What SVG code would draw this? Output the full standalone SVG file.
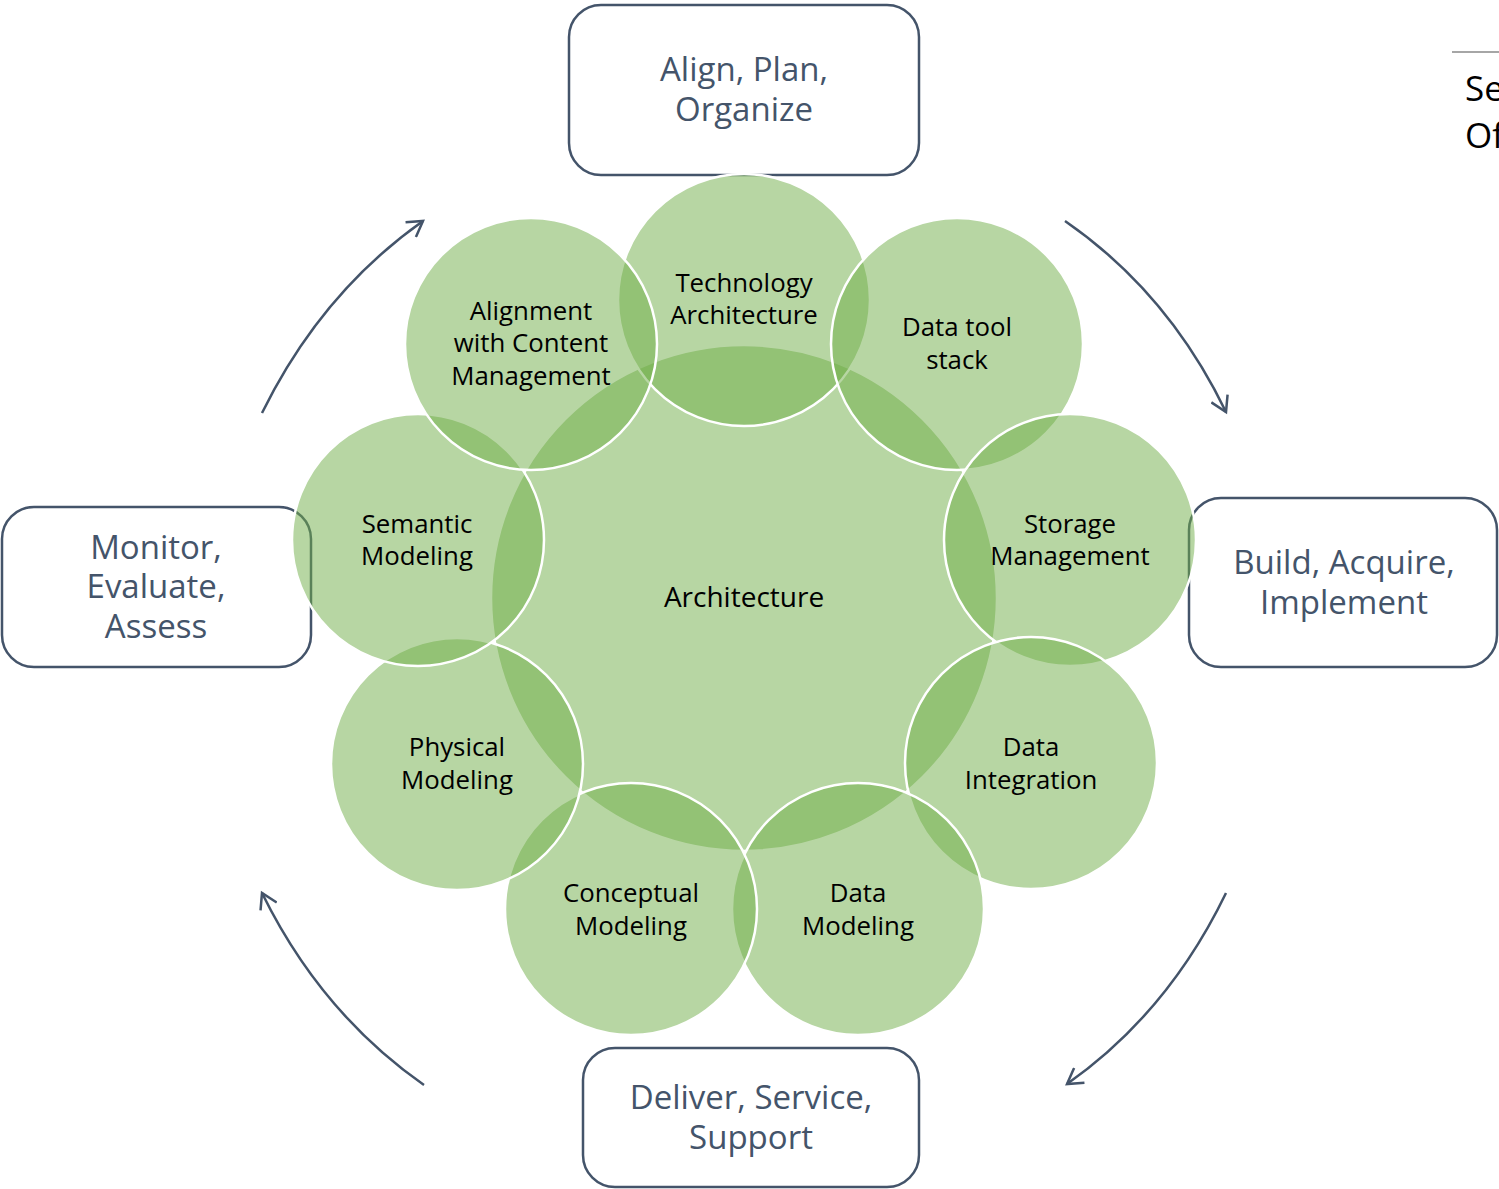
<svg xmlns="http://www.w3.org/2000/svg" width="1499" height="1189" viewBox="0 0 1499 1189">
<style>
.box{fill:#ffffff;stroke:#44546a;stroke-width:2.5}
.bt{font-family:"Open Sans","Noto Sans",sans-serif;font-size:33px;fill:#44546a;text-anchor:middle}
.c{fill:#70ad47;fill-opacity:0.5;stroke:#ffffff;stroke-width:2.5}
.ct{font-family:"Open Sans","Noto Sans",sans-serif;font-size:25.8px;fill:#000000;text-anchor:middle}
.arr{fill:none;stroke:#44546a;stroke-width:2.5;marker-end:url(#ah)}
</style>
<defs>
<marker id="ah" viewBox="0 0 20 20" refX="17" refY="10" markerWidth="20" markerHeight="20" markerUnits="userSpaceOnUse" orient="auto">
<path d="M2,1 L17,10 L2,19" fill="none" stroke="#44546a" stroke-width="2.5" stroke-linejoin="miter"/>
</marker>
</defs>
<rect width="1499" height="1189" fill="#ffffff"/>
<g id="side-text">
<line x1="1452" y1="52" x2="1499" y2="52" stroke="#a6a6a6" stroke-width="2"/>
<text font-family="'Open Sans','Noto Sans',sans-serif" font-size="35" fill="#000000"><tspan x="1465" y="101">Se</tspan><tspan x="1465" y="148">Of</tspan></text>
</g>
<g id="box-align">
<rect class="box" x="569" y="5" width="350" height="170" rx="32"/>
<text class="bt"><tspan x="744" y="81">Align, Plan,</tspan><tspan x="744" y="121">Organize</tspan></text>
</g>
<g id="box-build">
<rect class="box" x="1189" y="498" width="308" height="169" rx="32"/>
<text class="bt"><tspan x="1344" y="574">Build, Acquire,</tspan><tspan x="1344" y="614">Implement</tspan></text>
</g>
<g id="box-deliver">
<rect class="box" x="583" y="1048" width="336" height="139" rx="32"/>
<text class="bt"><tspan x="751" y="1109">Deliver, Service,</tspan><tspan x="751" y="1149">Support</tspan></text>
</g>
<g id="box-monitor">
<rect class="box" x="2" y="507" width="309" height="160" rx="32"/>
<text class="bt"><tspan x="156" y="559">Monitor,</tspan><tspan x="156" y="598">Evaluate,</tspan><tspan x="156" y="638">Assess</tspan></text>
</g>
<g id="connectors">
<path class="arr" d="M1065,221 Q1168,292 1226,412"/>
<path class="arr" d="M1226,893 Q1168,1013 1067,1084"/>
<path class="arr" d="M424,1085 Q321,1013 262,893"/>
<path class="arr" d="M262,413 Q321,293 423,221"/>
</g>
<g id="architecture"><circle class="c" cx="744" cy="598" r="253"/></g>
<g id="technology-architecture"><circle class="c" cx="744" cy="300" r="126"/></g>
<g id="data-tool-stack"><circle class="c" cx="957" cy="344" r="126"/></g>
<g id="storage-management"><circle class="c" cx="1070" cy="540" r="126"/></g>
<g id="data-integration"><circle class="c" cx="1031" cy="763" r="126"/></g>
<g id="data-modeling"><circle class="c" cx="858" cy="909" r="126"/></g>
<g id="conceptual-modeling"><circle class="c" cx="631" cy="909" r="126"/></g>
<g id="physical-modeling"><circle class="c" cx="457" cy="764" r="126"/></g>
<g id="semantic-modeling"><circle class="c" cx="418" cy="540" r="126"/></g>
<g id="alignment"><circle class="c" cx="531" cy="344" r="126"/></g>
<g id="labels">
<text class="ct" x="744" y="607" style="font-size:28px">Architecture</text>
<text class="ct"><tspan x="744" y="292">Technology</tspan><tspan x="744" y="324">Architecture</tspan></text>
<text class="ct"><tspan x="957" y="336">Data tool</tspan><tspan x="957" y="369">stack</tspan></text>
<text class="ct"><tspan x="1070" y="533">Storage</tspan><tspan x="1070" y="565">Management</tspan></text>
<text class="ct"><tspan x="1031" y="756">Data</tspan><tspan x="1031" y="789">Integration</tspan></text>
<text class="ct"><tspan x="858" y="902">Data</tspan><tspan x="858" y="935">Modeling</tspan></text>
<text class="ct"><tspan x="631" y="902">Conceptual</tspan><tspan x="631" y="935">Modeling</tspan></text>
<text class="ct"><tspan x="457" y="756">Physical</tspan><tspan x="457" y="789">Modeling</tspan></text>
<text class="ct"><tspan x="417" y="533">Semantic</tspan><tspan x="417" y="565">Modeling</tspan></text>
<text class="ct"><tspan x="531" y="320">Alignment</tspan><tspan x="531" y="352">with Content</tspan><tspan x="531" y="385">Management</tspan></text>
</g>
</svg>
